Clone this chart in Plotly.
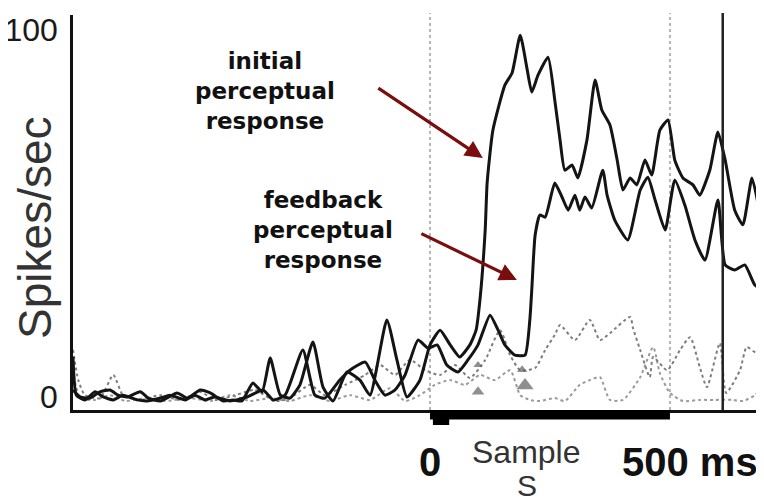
import plotly.graph_objects as go

# ---------------- data (time in ms, rate in spikes/sec) ----------------
initial_t = [-744,-729,-708,-688,-667,-650,-631,-604,-587,-562,-527,-506,-479,-458,-431,-410,-392,-369,-350,-333,-312,-292,-271,-244,-223,-202,-173,-146,-125,-90,-69,-48,-21,0,21,42,62,83,96,104,115,119,131,156,171,188,202,212,225,246,260,271,281,296,308,327,344,358,375,390,402,417,431,448,462,479,496,510,527,548,562,583,600,615,635,652,671,688,696]
initial_v = [3.0,1.1,0.8,2.5,3.0,1.6,1.1,2.5,0.8,0,2.2,0.8,3.0,2.2,0,0.3,0,4.9,2.5,11.7,1.6,0.8,4.4,16.1,3.8,0,7.9,5.7,1.6,22.1,11.2,1.1,5.7,15.3,19.3,15.3,12.0,15.3,19.3,27.5,46.6,59.4,73.8,86.1,89.4,99.7,90.7,84.2,88.8,93.7,82.0,71.1,62.9,64.3,60.8,71.1,87.5,79.3,75.2,65.7,57.5,60.8,58.9,65.7,61.6,73.8,76.6,65.7,60.8,58.9,56.1,62.9,73.3,65.7,52.0,48.0,60.8,50.7,45.2]

feedback_t = [-744,-737,-719,-698,-681,-660,-640,-610,-590,-562,-542,-510,-490,-469,-448,-417,-381,-348,-327,-302,-265,-240,-219,-188,-167,-135,-115,-94,-73,-52,-25,-4,15,35,58,79,100,125,142,156,177,198,208,212,219,229,240,260,275,288,302,312,323,337,360,369,385,412,438,454,469,490,510,531,552,573,600,615,635,656,677,696]
feedback_v = [12.0,1.6,0.3,2.5,1.1,0.3,1.6,0.3,0,0.8,1.6,0.3,1.6,0.3,1.1,0,1.1,3.0,0.3,1.6,13.9,1.6,0.8,5.7,8.4,10.6,5.7,1.6,3.0,7.1,16.6,14.4,15.3,9.8,7.9,11.2,15.3,23.4,19.3,15.3,12.5,12.5,22.1,30.2,45.2,50.7,50.1,59.4,55.6,52.0,56.1,52.0,55.6,52.6,62.9,56.1,49.3,43.9,57.5,61.0,54.8,46.6,60.2,53.4,43.9,38.4,54.8,37.1,35.7,37.1,31.6,30.2]

control1_t = [-744,-733,-719,-688,-660,-640,-604,-562,-521,-479,-448,-406,-365,-323,-292,-250,-219,-177,-135,-104,-73,-42,-10,21,52,83,115,146,167,188,219,240,260,271,302,333,354,375,417,423,438,458,465,494,521,542,562,577,604,617,646,660,681,696]
control1_v = [14.0,5.7,1.6,0.8,7.1,1.6,0.3,1.6,0.3,2.5,0.3,1.6,3.0,0,0.8,4.4,1.6,4.4,7.1,9.8,7.1,11.2,8.4,7.1,9.8,6.3,11.2,19.3,12.5,8.4,9.0,13.9,18.0,20.7,16.6,22.1,16.6,18.5,22.9,19.9,13.9,6.5,12.0,8.4,13.9,17.4,9.3,3.8,15.8,2.2,8.4,14.7,13.1,17.4]

control2_t = [-744,-729,-698,-667,-635,-594,-552,-500,-458,-417,-375,-333,-292,-250,-208,-167,-125,-83,-52,-21,10,42,73,104,135,167,188,208,229,260,281,312,333,354,375,402,438,465,479,500,527,562,590,631,652,677,696]
control2_v = [8.4,0.8,0.3,1.6,0,0.8,0,0.8,0,1.6,0,0.8,0,1.6,0,1.6,0.3,3.5,0,1.6,4.4,5.7,4.4,7.1,5.7,8.4,1.6,0.3,0,0.8,0,4.4,5.7,6.5,0.3,0.3,6.5,14.7,7.6,2.2,0,0.3,0.3,0.3,0,1.6,4.4]

marker_t = [100, 100, 198, 192]
marker_v = [2.5, 9.8, 4.2, 8.5]
marker_size = [11, 8, 15, 9]

sample_window = [0, 500]          # sample presentation (ms)
event_line_t = 610                # solid event line (ms)

y_tick_vals = [0, 100]
y_tick_text = ["0", "100"]
x_labels = ["0", "500 ms"]
x_label_t = [0, 542]

x_range = [-744, 696]
y_range = [-2.45, 105.2]

# ---------------- figure ----------------
fig = go.Figure()

grey_line = dict(shape="spline", smoothing=0.6)
fig.add_trace(go.Scatter(x=control2_t, y=control2_v, mode="lines",
                         line=dict(color="#9a9a9a", width=2, dash="dot", **grey_line),
                         hoverinfo="skip"))
fig.add_trace(go.Scatter(x=control1_t, y=control1_v, mode="lines",
                         line=dict(color="#7d7d7d", width=2, dash="dot", **grey_line),
                         hoverinfo="skip"))
fig.add_trace(go.Scatter(x=feedback_t, y=feedback_v, mode="lines",
                         line=dict(color="#141414", width=3, shape="spline", smoothing=0.5),
                         hoverinfo="skip"))
fig.add_trace(go.Scatter(x=initial_t, y=initial_v, mode="lines",
                         line=dict(color="#141414", width=3, shape="spline", smoothing=0.5),
                         hoverinfo="skip"))
fig.add_trace(go.Scatter(x=marker_t, y=marker_v, mode="markers",
                         marker=dict(symbol="triangle-up", size=marker_size, color="#5f5f5f",
                                     line=dict(width=0)),
                         hoverinfo="skip"))

# vertical reference lines
for t in sample_window:
    fig.add_shape(type="line", xref="x", yref="paper", x0=t, x1=t, y0=0, y1=1.005,
                  line=dict(color="#b5b5b5", width=2, dash="dot"), layer="below")
fig.add_shape(type="line", xref="x", yref="paper", x0=event_line_t, x1=event_line_t,
              y0=0, y1=1.005, line=dict(color="#222", width=2.5))

# sample bar under the axis
fig.add_shape(type="rect", xref="x", yref="paper", x0=sample_window[0], x1=sample_window[1],
              y0=-0.024, y1=0, fillcolor="black", line=dict(width=0))
fig.add_shape(type="rect", xref="x", yref="paper", x0=sample_window[0] + 6, x1=sample_window[0] + 40,
              y0=-0.038, y1=0, fillcolor="black", line=dict(width=0))

annots = []
# text labels
txt_font = dict(family="DejaVu Sans", size=23, color="#111")
annots.append(dict(x=-344, y=84.5, xref="x", yref="y", text="<b>initial<br>perceptual<br>response</b>",
                   showarrow=False, font=txt_font, align="center"))
annots.append(dict(x=-223, y=46.5, xref="x", yref="y", text="<b>feedback<br>perceptual<br>response</b>",
                   showarrow=False, font=txt_font, align="center"))
# arrows
arrow_style = dict(showarrow=True, arrowhead=2, arrowsize=1.1, arrowwidth=3.2,
                   arrowcolor="#7a0e0e", text="", xref="x", yref="y", standoff=0)
annots.append(dict(x=110, y=66.2, ax=-106, ay=-71, **arrow_style))
annots.append(dict(x=181, y=33.0, ax=-97, ay=-47, **arrow_style))

# axis labels
annots.append(dict(x=-0.055, y=0.461, xref="paper", yref="paper", text="Spikes/sec",
                   textangle=-90, showarrow=False, xanchor="center", yanchor="middle",
                   font=dict(family="Liberation Sans", size=46, color="#333")))
for lbl, t in zip(x_labels, x_label_t):
    annots.append(dict(x=t, y=-0.132, xref="x", yref="paper", text="<b>" + lbl + "</b>",
                       showarrow=False, xanchor="center", yanchor="middle",
                       font=dict(family="Liberation Sans", size=40, color="#111")))
annots.append(dict(x=202, y=-0.106, xref="x", yref="paper", text="Sample", showarrow=False,
                   xanchor="center", yanchor="middle",
                   font=dict(family="Liberation Sans", size=32, color="#333")))
annots.append(dict(x=202, y=-0.19, xref="x", yref="paper", text="S", showarrow=False,
                   xanchor="center", yanchor="middle",
                   font=dict(family="Liberation Sans", size=30, color="#333")))

# page body has an 8px default margin, so the figure is sized to fit the window
fig.update_layout(
    width=756, height=491,
    margin=dict(l=65, r=0, t=7, b=89),
    paper_bgcolor="white", plot_bgcolor="white",
    showlegend=False,
    annotations=annots,
    xaxis=dict(range=x_range, showgrid=False, zeroline=False, showticklabels=False,
               ticks="", showline=True, linecolor="#111", linewidth=3, automargin=False),
    yaxis=dict(range=y_range, showgrid=False, zeroline=False, ticks="",
               tickvals=y_tick_vals, ticktext=y_tick_text,
               tickfont=dict(family="Liberation Sans", size=32, color="#1a1a1a"),
               ticklabelstandoff=6, ticklabelshift=-4, automargin=False,
               showline=True, linecolor="#111", linewidth=2.5),
)

fig.write_html("out.html")
